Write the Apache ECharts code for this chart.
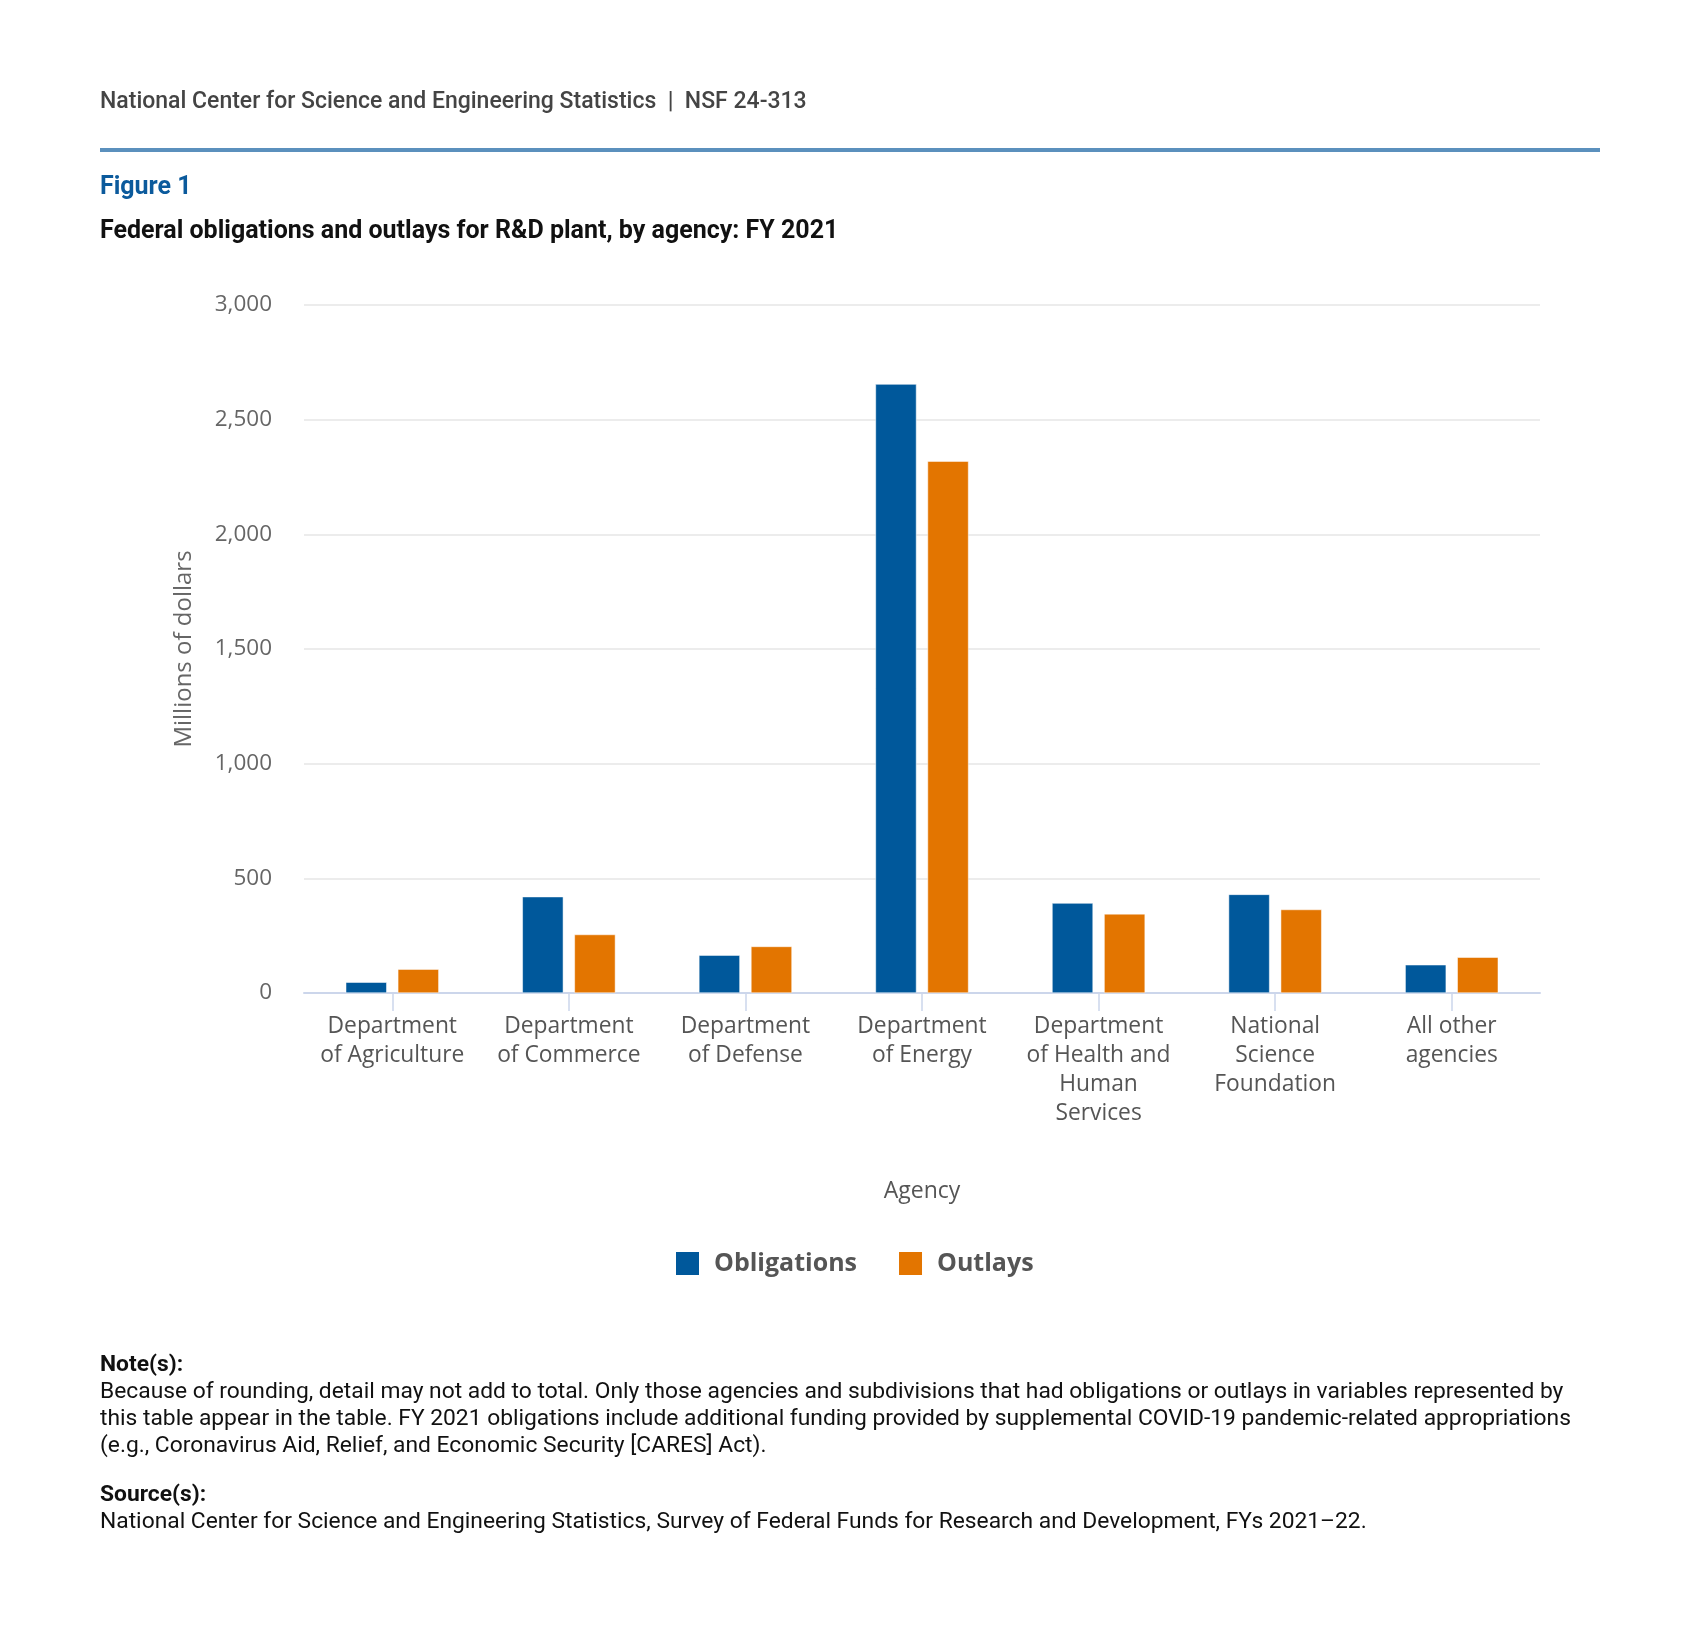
<!DOCTYPE html>
<html>
<head>
<meta charset="utf-8">
<script src="https://cdn.jsdelivr.net/npm/echarts@6/dist/echarts.min.js"></script>
<style>
  html, body { margin: 0; padding: 0; background: #fff; }
  body { width: 1699px; height: 1642px; position: relative; overflow: hidden; font-family: Roboto, "Noto Sans", sans-serif; }
  #chart { position: absolute; left: 0; top: 0; width: 1699px; height: 1642px; }
  .abs { position: absolute; white-space: nowrap; }
  #hdr { left: 100px; top: 87px; font-size: 23px; font-weight: 500; color: #444; }
  #rule { position: absolute; left: 100px; top: 148px; width: 1500px; height: 4px; background: #5b90bd; }
  #fig { left: 100px; top: 171px; font-size: 25px; font-weight: 700; color: #0b5a9c; }
  #ttl { left: 100px; top: 215px; font-size: 25px; font-weight: 700; color: #111; }
  #notes { left: 100px; top: 1350px; font-size: 22.8px; color: #111; line-height: 27px; }
  #notes b { font-weight: 700; }
</style>
</head>
<body>
<div id="chart"></div>
<div class="abs" id="hdr">National Center for Science and Engineering Statistics &nbsp;|&nbsp; NSF 24-313</div>
<div id="rule"></div>
<div class="abs" id="fig">Figure 1</div>
<div class="abs" id="ttl">Federal obligations and outlays for R&amp;D plant, by agency: FY 2021</div>
<div class="abs" id="notes"><b>Note(s):</b><br>Because of rounding, detail may not add to total. Only those agencies and subdivisions that had obligations or outlays in variables represented by<br>this table appear in the table. FY 2021 obligations include additional funding provided by supplemental COVID-19 pandemic-related appropriations<br>(e.g., Coronavirus Aid, Relief, and Economic Security [CARES] Act).<br><div style="height:22px"></div><b>Source(s):</b><br>National Center for Science and Engineering Statistics, Survey of Federal Funds for Research and Development, FYs 2021–22.</div>
<script>
const categories = [
  "Department\nof Agriculture",
  "Department\nof Commerce",
  "Department\nof Defense",
  "Department\nof Energy",
  "Department\nof Health and\nHuman\nServices",
  "National\nScience\nFoundation",
  "All other\nagencies"
];
const obligations = [47, 420, 165, 2655, 392, 430, 123];
const outlays = [104, 255, 203, 2319, 345, 364, 156];
const yTicks = { min: 0, max: 3000, interval: 500 };

const chart = echarts.init(document.getElementById('chart'), null, { renderer: 'canvas' });
const axisFont = '"Open Sans", "Noto Sans", sans-serif';
chart.setOption({
  animation: false,
  backgroundColor: 'transparent',
  grid: { left: 304, right: 159, top: 305, bottom: 649, containLabel: false },
  legend: {
    left: 669, top: 1245,
    icon: 'rect', itemWidth: 25, itemHeight: 25, itemGap: 40,
    textStyle: { fontFamily: axisFont, fontSize: 25, fontWeight: 'bold', color: '#555', padding: [0, 0, 0, 9] },
    data: ['Obligations', 'Outlays']
  },
  xAxis: {
    type: 'category',
    data: categories,
    name: 'Agency',
    nameLocation: 'middle',
    nameGap: 187,
    nameTextStyle: { fontFamily: axisFont, fontSize: 23, color: '#555' },
    axisLine: { lineStyle: { color: '#ccd6eb', width: 2 } },
    axisTick: { show: true, alignWithLabel: true, length: 18, lineStyle: { color: '#ccd6eb', width: 1.5 } },
    axisLabel: { fontFamily: axisFont, fontSize: 22.8, color: '#555', lineHeight: 29, margin: 19, interval: 0 }
  },
  yAxis: {
    type: 'value',
    min: yTicks.min, max: yTicks.max, interval: yTicks.interval,
    name: 'Millions of dollars',
    nameLocation: 'middle',
    nameGap: 108,
    nameTextStyle: { fontFamily: axisFont, fontSize: 24, color: '#666' },
    axisLine: { show: false },
    axisTick: { show: false },
    axisLabel: { fontFamily: axisFont, fontSize: 22.5, color: '#666', margin: 32,
      formatter: v => v.toLocaleString('en-US') },
    splitLine: { lineStyle: { color: '#e6e6e6', width: 1.5 } }
  },
  series: [
    { name: 'Obligations', type: 'bar', data: obligations, barWidth: 41, barGap: '27%',
      itemStyle: { color: '#00589b', borderColor: '#fff', borderWidth: 0.5 } },
    { name: 'Outlays', type: 'bar', data: outlays, barWidth: 41,
      itemStyle: { color: '#e37500', borderColor: '#fff', borderWidth: 0.5 } }
  ]
});
</script>
</body>
</html>
